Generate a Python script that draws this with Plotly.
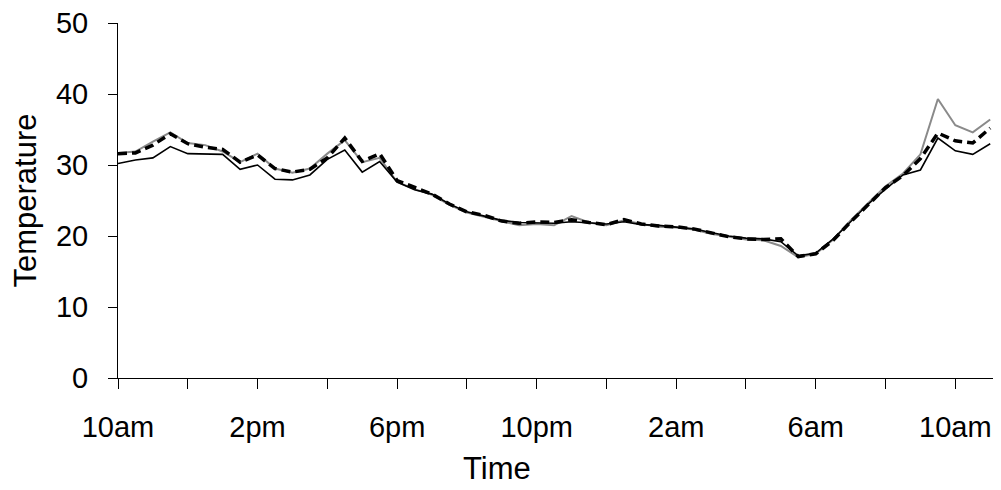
import plotly.graph_objects as go

# hours since 10am, every 30 minutes
hours = [i * 0.5 for i in range(51)]

series_solid = [30.2, 30.7, 31.0, 32.6, 31.6, 31.5, 31.5, 29.4, 30.0, 28.0,
                27.9, 28.6, 30.8, 32.1, 29.0, 30.5, 27.6, 26.5, 25.9, 24.5,
                23.4, 22.8, 22.2, 21.9, 21.9, 21.8, 22.0, 21.8, 21.7, 22.0,
                21.6, 21.5, 21.3, 21.0, 20.5, 20.0, 19.7, 19.6, 19.2, 17.2,
                17.6, 19.6, 22.0, 24.5, 26.6, 28.6, 29.3, 33.8, 32.0, 31.5,
                33.0]

series_gray = [31.7, 31.9, 33.3, 34.6, 33.1, 32.8, 31.9, 30.4, 31.6, 29.5,
               28.9, 29.5, 31.6, 33.5, 30.4, 31.0, 27.6, 26.6, 25.8, 24.4,
               23.3, 22.7, 22.0, 21.5, 21.7, 21.5, 22.8, 21.9, 21.5, 22.2,
               21.7, 21.3, 21.2, 20.9, 20.3, 19.9, 19.5, 19.4, 18.6, 17.0,
               17.5, 19.5, 22.2, 24.6, 27.0, 28.8, 31.5, 39.3, 35.6, 34.6,
               36.4]

series_dash = [31.6, 31.7, 32.8, 34.4, 33.0, 32.5, 32.2, 30.4, 31.4, 29.5,
               29.0, 29.4, 31.0, 33.8, 30.5, 31.6, 27.8, 26.8, 25.9, 24.5,
               23.4, 22.9, 22.1, 21.8, 22.0, 21.9, 22.3, 21.9, 21.6, 22.3,
               21.7, 21.4, 21.3, 21.0, 20.4, 19.9, 19.6, 19.5, 19.6, 17.1,
               17.5, 19.4, 22.0, 24.4, 26.8, 28.5, 30.9, 34.5, 33.4, 33.1,
               35.2]

tick_hours = [0, 4, 8, 12, 16, 20, 24]
tick_labels = ["10am", "2pm", "6pm", "10pm", "2am", "6am", "10am"]

font = dict(family="Liberation Sans, Arial, sans-serif", size=29, color="black")
title_font = dict(family="Liberation Sans, Arial, sans-serif", size=31, color="black")

fig = go.Figure()
fig.add_trace(go.Scatter(x=hours, y=series_gray, mode="lines",
                         line=dict(color="#8a8a8a", width=2), showlegend=False))
fig.add_trace(go.Scatter(x=hours, y=series_solid, mode="lines",
                         line=dict(color="black", width=1.6), showlegend=False))
fig.add_trace(go.Scatter(x=hours, y=series_dash, mode="lines",
                         line=dict(color="black", width=3.5, dash="9px,5px"),
                         showlegend=False))

fig.update_layout(
    width=1001, height=490,
    margin=dict(l=118, r=8, t=23, b=112),
    paper_bgcolor="white", plot_bgcolor="white",
    font=font,
    xaxis=dict(range=[0, 25.08], tickmode="array", tickvals=tick_hours,
               ticktext=tick_labels, ticks="outside", ticklen=10,
               tickcolor="black", showline=True, linecolor="black",
               linewidth=1, showgrid=False, zeroline=False,
               ticklabelstandoff=13,
               minor=dict(dtick=2, tick0=0, ticks="outside", ticklen=10,
                          tickcolor="black", showgrid=False)),
    yaxis=dict(range=[0, 50], dtick=10, ticks="outside", ticklen=9,
               tickcolor="black", showline=True, linecolor="black",
               linewidth=1, showgrid=False, zeroline=False,
               ticklabelstandoff=14,
               title=dict(text="Temperature", font=title_font, standoff=10)),
    annotations=[dict(text="Time", xref="paper", yref="paper",
                      x=(497 - 118) / 875, y=-0.255, xanchor="center",
                      yanchor="middle", showarrow=False, font=title_font)],
)

fig.write_html("out.html")
